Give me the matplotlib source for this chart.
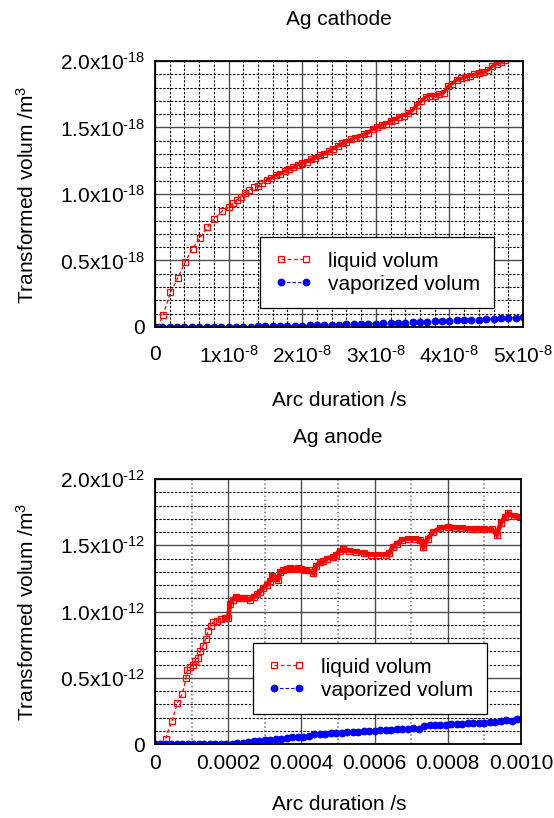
import numpy as np
import matplotlib
matplotlib.use("Agg")
import matplotlib.pyplot as plt
from matplotlib.ticker import MultipleLocator

plt.rcParams['font.family'] = ['Liberation Sans', 'DejaVu Sans']
plt.rcParams['mathtext.fontset'] = 'custom'
plt.rcParams['mathtext.rm'] = 'Liberation Sans'
plt.rcParams['mathtext.it'] = 'Liberation Sans:italic'
plt.rcParams['mathtext.bf'] = 'Liberation Sans:bold'

# ---- Ag cathode (x in 1e-8 s, y in 1e-18 m^3)
cat_liq_x = [0.04, 0.11, 0.21, 0.31, 0.41, 0.51, 0.61, 0.71, 0.80, 0.91,
             1.00, 1.06, 1.11, 1.17, 1.22, 1.28, 1.34, 1.40, 1.46, 1.52,
             1.58, 1.64, 1.70, 1.76, 1.82, 1.88, 1.94, 2.00, 2.06, 2.12,
             2.18, 2.24, 2.30, 2.36, 2.42, 2.48, 2.54, 2.60, 2.66, 2.72,
             2.78, 2.84, 2.90, 2.96, 3.02, 3.08, 3.14, 3.20, 3.26, 3.32,
             3.38, 3.44, 3.50, 3.56, 3.62, 3.68, 3.74, 3.80, 3.86, 3.92,
             3.98, 4.04, 4.10, 4.16, 4.22, 4.28, 4.34, 4.40, 4.46, 4.52,
             4.58, 4.64, 4.70, 4.76, 4.82]
cat_liq_y = [0.00, 0.09, 0.26, 0.37, 0.49, 0.59, 0.67, 0.75, 0.81, 0.87,
             0.90, 0.93, 0.955, 0.98, 1.01, 1.03, 1.05, 1.06, 1.08, 1.105,
             1.12, 1.14, 1.15, 1.17, 1.19, 1.20, 1.22, 1.235, 1.24, 1.26,
             1.27, 1.29, 1.30, 1.32, 1.34, 1.36, 1.38, 1.39, 1.41, 1.42,
             1.43, 1.45, 1.46, 1.49, 1.50, 1.52, 1.53, 1.55, 1.56, 1.58,
             1.59, 1.61, 1.63, 1.67, 1.70, 1.73, 1.74, 1.74, 1.75, 1.76,
             1.81, 1.83, 1.86, 1.87, 1.88, 1.89, 1.90, 1.91, 1.915, 1.93,
             1.96, 1.98, 1.995, 2.01, 2.03]

cat_vap_x = [0.0, 0.1, 0.2, 0.3, 0.4, 0.5, 0.6, 0.7, 0.8, 0.9,
             1.0, 1.1, 1.2, 1.3, 1.4, 1.5, 1.6, 1.7, 1.8, 1.9,
             2.0, 2.1, 2.2, 2.3, 2.4, 2.5, 2.6, 2.7, 2.8, 2.9,
             3.0, 3.1, 3.2, 3.3, 3.4, 3.5, 3.6, 3.7, 3.8, 3.9,
             4.0, 4.1, 4.2, 4.3, 4.4, 4.5, 4.6, 4.7, 4.8, 4.9,
             5.0]
cat_vap_y = [0.000, 0.000, 0.000, 0.000, 0.000, 0.000, 0.000, 0.001, 0.001, 0.001,
             0.002, 0.002, 0.003, 0.003, 0.004, 0.005, 0.006, 0.007, 0.008, 0.009,
             0.011, 0.012, 0.013, 0.014, 0.016, 0.017, 0.019, 0.020, 0.022, 0.024,
             0.026, 0.027, 0.029, 0.031, 0.033, 0.035, 0.037, 0.039, 0.042, 0.044,
             0.046, 0.049, 0.051, 0.054, 0.056, 0.059, 0.062, 0.064, 0.067, 0.070,
             0.073]

# ---- Ag anode (x in 1e-4 s, y in 1e-12 m^3)
an_liq_x = [0.20, 0.29, 0.46, 0.61, 0.75, 0.85, 0.88, 0.95, 1.03, 1.10,
            1.17, 1.24, 1.31, 1.38, 1.45, 1.52, 1.59, 1.70, 1.80, 1.90,
            2.00, 2.05, 2.12, 2.20, 2.30, 2.40, 2.50, 2.60, 2.70, 2.80,
            2.87, 2.95, 3.05, 3.14, 3.20, 3.28, 3.36, 3.42, 3.50, 3.60,
            3.70, 3.80, 3.90, 4.00, 4.10, 4.20, 4.33, 4.40, 4.50, 4.60,
            4.70, 4.85, 4.95, 5.05, 5.15, 5.30, 5.50, 5.70, 5.90, 6.10,
            6.30, 6.40, 6.50, 6.60, 6.75, 6.90, 7.10, 7.25, 7.33, 7.45,
            7.60, 7.80, 8.00, 8.20, 8.40, 8.60, 8.80, 9.00, 9.20, 9.34,
            9.45, 9.55, 9.65, 9.80, 9.98]
an_liq_y = [0.00, 0.04, 0.17, 0.31, 0.38, 0.50, 0.56, 0.58, 0.60, 0.63,
            0.65, 0.70, 0.74, 0.79, 0.85, 0.89, 0.92, 0.93, 0.94, 0.95,
            0.95, 1.06, 1.09, 1.11, 1.10, 1.10, 1.10, 1.09, 1.11, 1.13,
            1.15, 1.18, 1.20, 1.23, 1.27, 1.25, 1.24, 1.30, 1.31, 1.32,
            1.33, 1.32, 1.33, 1.32, 1.31, 1.31, 1.29, 1.34, 1.37, 1.38,
            1.40, 1.41, 1.43, 1.46, 1.47, 1.46, 1.45, 1.44, 1.43, 1.43,
            1.43, 1.44, 1.49, 1.51, 1.54, 1.55, 1.55, 1.54, 1.49, 1.55,
            1.60, 1.63, 1.64, 1.63, 1.63, 1.62, 1.62, 1.62, 1.62, 1.58,
            1.67, 1.71, 1.74, 1.72, 1.71]

an_vap_x = [0.00, 0.15, 0.30, 0.45, 0.60, 0.75, 0.90, 1.05, 1.20, 1.35,
            1.50, 1.65, 1.80, 1.95, 2.10, 2.25, 2.40, 2.55, 2.70, 2.85,
            3.00, 3.15, 3.30, 3.45, 3.60, 3.75, 3.90, 4.05, 4.20, 4.35,
            4.50, 4.65, 4.80, 4.95, 5.10, 5.25, 5.40, 5.55, 5.70, 5.85,
            6.00, 6.15, 6.30, 6.45, 6.60, 6.75, 6.90, 7.05, 7.20, 7.35,
            7.50, 7.65, 7.80, 7.95, 8.10, 8.25, 8.40, 8.55, 8.70, 8.85,
            9.00, 9.15, 9.30, 9.45, 9.60, 9.75, 9.90]
an_vap_y = [0.000, 0.000, 0.000, 0.000, 0.000, 0.000, 0.000, 0.000, 0.000, 0.000,
            0.000, 0.000, 0.000, 0.000, 0.002, 0.006, 0.010, 0.015, 0.020, 0.024,
            0.028, 0.033, 0.035, 0.040, 0.046, 0.055, 0.050, 0.055, 0.058, 0.074,
            0.075, 0.078, 0.080, 0.084, 0.086, 0.088, 0.090, 0.093, 0.096, 0.098,
            0.100, 0.104, 0.103, 0.108, 0.112, 0.110, 0.115, 0.117, 0.114, 0.138,
            0.140, 0.142, 0.145, 0.146, 0.148, 0.150, 0.152, 0.155, 0.156, 0.158,
            0.160, 0.163, 0.165, 0.175, 0.182, 0.170, 0.185]

cat_xticks = [0, 1e-8, 2e-8, 3e-8, 4e-8, 5e-8]
cat_xlabels = ['0', r'1x10$^{\text{-8}}$', r'2x10$^{\text{-8}}$', r'3x10$^{\text{-8}}$',
               r'4x10$^{\text{-8}}$', r'5x10$^{\text{-8}}$']
cat_yticks = [0, 0.5e-18, 1.0e-18, 1.5e-18, 2.0e-18]
cat_ylabels = ['0', r'0.5x10$^{\text{-18}}$', r'1.0x10$^{\text{-18}}$',
               r'1.5x10$^{\text{-18}}$', r'2.0x10$^{\text{-18}}$']
an_xticks = [0, 0.0002, 0.0004, 0.0006, 0.0008, 0.0010]
an_xlabels = ['0', '0.0002', '0.0004', '0.0006', '0.0008', '0.0010']
an_yticks = [0, 0.5e-12, 1.0e-12, 1.5e-12, 2.0e-12]
an_ylabels = ['0', r'0.5x10$^{\text{-12}}$', r'1.0x10$^{\text{-12}}$',
              r'1.5x10$^{\text{-12}}$', r'2.0x10$^{\text{-12}}$']

W, H = 554, 818
fig = plt.figure(figsize=(W / 100, H / 100), dpi=100)

def px_axes(l, t, r, b):
    return fig.add_axes([l / W, 1 - b / H, (r - l) / W, (b - t) / H])

ax1 = px_axes(155, 61, 523, 327)
ax2 = px_axes(155, 479, 521, 744)

FS = 15

def draw(ax, lx, ly, vx, vy, xs, ys, band_from, band_lw, xmax, ymax,
         xt, xl, yt, yl, xminor, yminor, title, xpad):
    lx = np.array(lx) * xs
    ly = np.array(ly) * ys
    # dense part of the liquid curve looks like a thick band of overlapping squares
    k = np.searchsorted(lx, band_from * xs)
    ax.plot(lx[k:], ly[k:], color='red', lw=band_lw, solid_joinstyle='miter')
    ax.plot(lx, ly, color='red', ls=(0, (3, 2)), lw=0.9,
            marker='s', ms=4.7, mfc='none', mec='red', mew=0.9, label='liquid volum')
    ax.plot(np.array(vx) * xs, np.array(vy) * ys, color='blue', ls=(0, (3, 2)), lw=0.8,
            marker='o', ms=4.6, mfc='blue', mec='blue', label='vaporized volum')
    ax.set_xlim(0, xmax)
    ax.set_ylim(0, ymax)
    ax.set_xticks(xt)
    ax.set_xticklabels(xl, fontsize=FS)
    ax.set_yticks(yt)
    ax.set_yticklabels(yl, fontsize=FS)
    ax.xaxis.set_minor_locator(MultipleLocator(xminor))
    ax.yaxis.set_minor_locator(MultipleLocator(yminor))
    ax.tick_params(which='both', length=0)
    ax.tick_params(axis='x', pad=xpad)
    ax.tick_params(axis='y', pad=7)
    ax.grid(which='major', color='0.3', lw=1.0, ls='-')
    ax.grid(which='minor', color='black', lw=0.8, ls=(0, (2, 1.5)))
    ax.set_axisbelow(True)
    for s in ax.spines.values():
        s.set_linewidth(1.3)
        s.set_color('black')
    ax.set_title(title, fontsize=FS, pad=26)
    leg = ax.legend(loc='upper left', numpoints=2, fontsize=FS, fancybox=False,
                    framealpha=1, edgecolor='black', handlelength=1.8,
                    handletextpad=0.75, labelspacing=0.2, borderpad=0.7,
                    borderaxespad=0)
    leg.get_frame().set_linewidth(0.9)
    return leg

leg1 = draw(ax1, cat_liq_x, cat_liq_y, cat_vap_x, cat_vap_y, 1e-8, 1e-18, 1.5, 2.4,
            5e-8, 2e-18, cat_xticks, cat_xlabels, cat_yticks, cat_ylabels,
            0.2e-8, 0.1e-18, 'Ag cathode', 13)
leg1.set_bbox_to_anchor(((260 - 155) / 368, (327 - 237) / 266), transform=ax1.transAxes)

leg2 = draw(ax2, an_liq_x, an_liq_y, an_vap_x, an_vap_y, 1e-4, 1e-12, 1.9, 3.4,
            0.001, 2e-12, an_xticks, an_xlabels, an_yticks, an_ylabels,
            0.0001, 0.1e-12, 'Ag anode', 7)
leg2.set_bbox_to_anchor(((253 - 155) / 366, (744 - 643) / 265), transform=ax2.transAxes)
ax2.grid(which='minor', axis='x', color='0.45', lw=1.1, ls=':')

fig.text(339 / W, 1 - 400 / H, 'Arc duration /s', fontsize=FS, ha='center', va='center')
fig.text(339 / W, 1 - 805 / H, 'Arc duration /s', fontsize=FS, ha='center', va='center')
fig.text(27 / W, 1 - 195 / H, r'Transformed volum /m$^{\text{3}}$', fontsize=FS,
         ha='center', va='center', rotation=90)
fig.text(27 / W, 1 - 612 / H, r'Transformed volum /m$^{\text{3}}$', fontsize=FS,
         ha='center', va='center', rotation=90)

fig.savefig('out.png', dpi=100)
